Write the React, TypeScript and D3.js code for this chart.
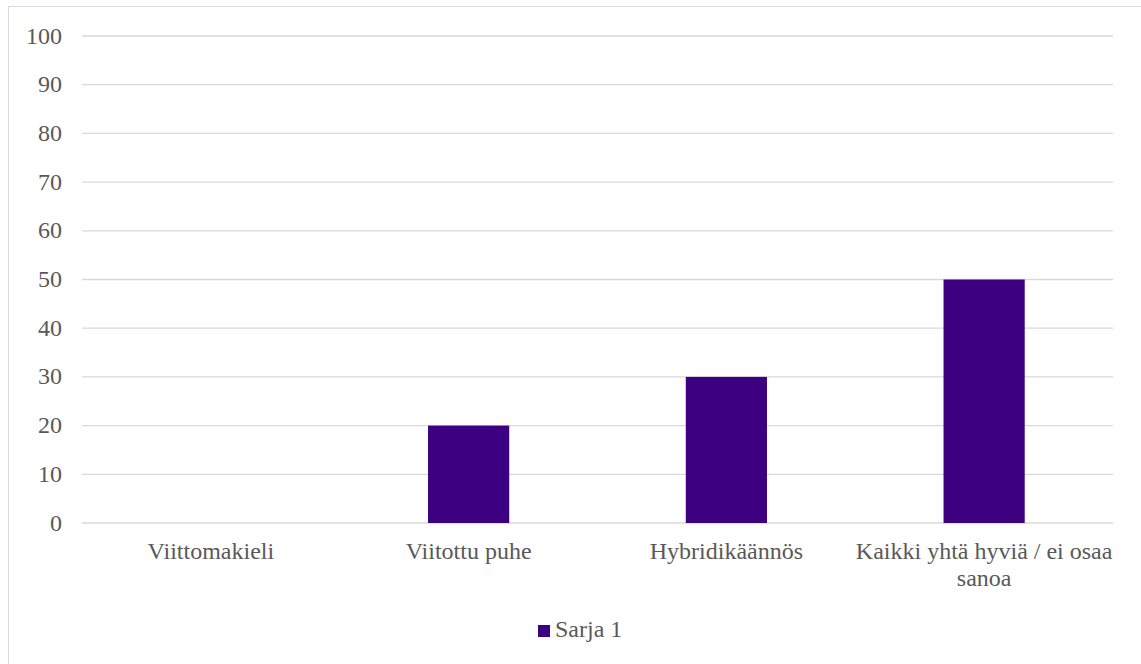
import React from "react";
import * as d3 from "d3";

const categories = ["Viittomakieli", "Viitottu puhe", "Hybridikäännös", "Kaikki yhtä hyviä / ei osaa sanoa"];
const values = [0, 20, 30, 50];
const yTicks = [0, 10, 20, 30, 40, 50, 60, 70, 80, 90, 100];
const seriesName = "Sarja 1";

const W = 1141, H = 664;
const left = 82, right = 1113, top = 36, bottom = 523;
const color = "#3C0080";
const textColor = "#595959";
const font = "Liberation Serif";

function wrap(label: string, maxW: number, fontSize: number): string[] {
  const words = label.split(" ");
  const lines: string[] = [];
  let cur = "";
  const est = (s: string) => s.length * fontSize * 0.36;
  for (const w of words) {
    const t = cur ? cur + " " + w : w;
    if (est(t) > maxW && cur) { lines.push(cur); cur = w; } else cur = t;
  }
  if (cur) lines.push(cur);
  return lines;
}

export default function App() {
  const x = d3.scaleBand<string>().domain(categories).range([left, right]).paddingInner(0.685).paddingOuter(0.3425);
  const xb = d3.scaleBand<string>().domain(categories).range([left, right]);
  const y = d3.scaleLinear().domain([0, 100]).range([bottom, top]);
  const fs = 24;
  const ts = { fontFamily: font };
  return (
    <svg width={W} height={H} style={{ position: "absolute", left: 0, top: 0 }}>
      <rect x={0} y={0} width={W} height={H} fill="#fff" />
      <rect x={8.5} y={6.5} width={W + 20} height={H + 20} fill="none" stroke="#d9d9d9" strokeWidth={1} />
      {yTicks.map((t) => (
        <g key={t}>
          <line x1={left} x2={right} y1={y(t)} y2={y(t)} stroke="#d9d9d9" strokeWidth={1.3} />
          <text x={62} y={y(t) + 7.5} textAnchor="end" fontSize={fs} fill={textColor} style={ts}>{t}</text>
        </g>
      ))}
      {categories.map((c, i) => (
        <rect key={c} x={x(c)} width={x.bandwidth()} y={y(values[i])} height={y(0) - y(values[i])} fill={color} />
      ))}
      {categories.map((c) => {
        const lines = wrap(c, xb.bandwidth(), fs);
        const cx = (xb(c) as number) + xb.bandwidth() / 2;
        return (
          <text key={c} x={cx} y={559} textAnchor="middle" fontSize={fs} fill={textColor} style={ts}>
            {lines.map((l, j) => (
              <tspan key={j} x={cx} dy={j === 0 ? 0 : 27}>{l}</tspan>
            ))}
          </text>
        );
      })}
      <rect x={538} y={625} width={12} height={12} fill={color} />
      <text x={555} y={637} fontSize={fs} fill={textColor} style={ts}>{seriesName}</text>
    </svg>
  );
}
